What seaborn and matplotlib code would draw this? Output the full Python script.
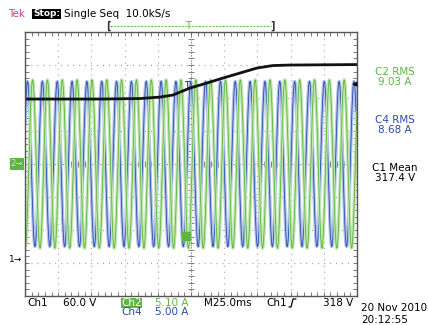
import numpy as np
import matplotlib
matplotlib.use("Agg")
import matplotlib.pyplot as plt
import seaborn as sns
from matplotlib.lines import Line2D

# Scope settings
ch1_volts_per_div = 60.0
ch2_amps_per_div = 5.10
ch4_amps_per_div = 5.00
ms_per_div = 25.0
ch1_ground_div = -2.88          # "1->" marker, divisions from centre
sample_rate_khz = 10.0

# Ch1 (black) DC voltage trace
ch1_time_ms = [-125, -68.5, -38.4, -23.3, -13.6, -0.8, 12.0, 24.1, 36.9, 49.7, 61.7, 74.5, 125]
ch1_volts = [290.9, 290.9, 291.8, 294.5, 298.2, 310.9, 320.0, 329.1, 338.2, 347.3, 351.8, 352.7, 353.6]

# Ch2 / Ch4 currents: sinusoids, peak, frequency and first trough
ch2_peak_a = 13.0
ch4_peak_a = 12.5
line_freq_hz = 89.5
ch2_first_trough_ms = -113.7
ch4_first_trough_ms = -117.5

# Measurement readouts
meas_labels = ["C2 RMS", "C4 RMS", "C1 Mean"]
meas_values = ["9.03 A", "8.68 A", "317.4 V"]

GREEN = "#5cb640"
GREEN_LIGHT = "#c2e6b0"
BLUE = "#2a4cac"
BLUE_LIGHT = "#b0c2e8"
PINK = "#c2409e"

W, H = 428, 325


def px(x, y):
    return x / W, 1 - y / H


sns.set_style("white")
plt.rcParams["font.family"] = ["DejaVu Sans"]

fig = plt.figure(figsize=(W / 100, H / 100), dpi=100)
ax = fig.add_axes([25 / W, (H - 296) / H, 332 / W, 264 / H])

# time base
t = np.arange(-125, 125, 1.0 / sample_rate_khz)
period = 1000.0 / line_freq_hz
ch2 = -ch2_peak_a * np.cos(2 * np.pi * (t - ch2_first_trough_ms) / period)
ch4 = -ch4_peak_a * np.cos(2 * np.pi * (t - ch4_first_trough_ms) / period)

# grid
for i in range(-4, 5):
    if i == 0:
        continue
    ax.axvline(i * ms_per_div, color="#8c8c8c", lw=0.9, ls=(0, (0.7, 4.08)), zorder=0)
for j in range(-3, 4):
    if j == 0:
        continue
    ax.axhline(j, color="#8c8c8c", lw=0.9, ls=(0, (0.7, 4.08)), zorder=0)
ax.axvline(0, color="#808080", lw=0.8, ls=(0, (1.2, 1.2)), zorder=0)
ax.axhline(0, color="#808080", lw=0.8, ls=(0, (1.2, 1.2)), zorder=0)
minor_x = np.arange(-125, 125.1, 5)
minor_y = np.arange(-4, 4.01, 0.2)
ax.plot(minor_x, np.zeros_like(minor_x), ls="none", marker="|", ms=4, color="#808080", mew=0.7, zorder=0)
ax.plot(np.zeros_like(minor_y), minor_y, ls="none", marker="_", ms=4, color="#808080", mew=0.7, zorder=0)

# traces
sns.lineplot(x=t, y=ch4 / ch4_amps_per_div, ax=ax, color=BLUE_LIGHT, lw=2.4, estimator=None, sort=False)
sns.lineplot(x=t, y=ch4 / ch4_amps_per_div, ax=ax, color=BLUE, lw=0.6, estimator=None, sort=False)
sns.lineplot(x=t, y=ch2 / ch2_amps_per_div, ax=ax, color=GREEN_LIGHT, lw=2.4, estimator=None, sort=False)
sns.lineplot(x=t, y=ch2 / ch2_amps_per_div, ax=ax, color=GREEN, lw=0.6, estimator=None, sort=False)
ch1_div = np.array(ch1_volts) / ch1_volts_per_div + ch1_ground_div
sns.lineplot(x=ch1_time_ms, y=ch1_div, ax=ax, color="#111111", lw=2.0, estimator=None, sort=False)

ax.set_xlim(-125, 125)
ax.set_ylim(-4, 4)
ax.set_xticks(np.arange(-125, 126, 25))
ax.set_yticks(np.arange(-4, 5, 1))
ax.set_xticks(minor_x, minor=True)
ax.set_yticks(minor_y, minor=True)
ax.tick_params(which="both", direction="in", length=3, width=0.7, color="#777777",
               top=True, right=True, bottom=True, left=True,
               labelbottom=False, labelleft=False)
ax.set_xlabel("")
ax.set_ylabel("")
for s in ax.spines.values():
    s.set_color("#555555")
    s.set_linewidth(1.0)

fs = 7.5
# header
fig.text(*px(8, 14), "Tek", color=PINK, fontsize=fs, va="center")
fig.text(*px(33, 14), "Stop:", color="white", fontsize=6.5, fontweight="bold", va="center",
         bbox=dict(facecolor="black", edgecolor="none", pad=0.5))
fig.text(*px(64, 14), "Single Seq  10.0kS/s", color="black", fontsize=fs, va="center")

# record bracket and trigger position
fig.text(*px(108, 26), "[", color="#333333", fontsize=7, va="center", ha="center", fontweight="bold")
fig.text(*px(273, 26), "]", color="#333333", fontsize=7, va="center", ha="center", fontweight="bold")
fig.add_artist(Line2D([110 / W, 271 / W], [1 - 26 / H, 1 - 26 / H], color=GREEN, lw=0.7,
                      ls=(0, (2, 1.5))))
fig.text(*px(188, 26), "T", color=GREEN, fontsize=7, va="center", ha="center")
fig.text(*px(187, 85), "T", color="#222222", fontsize=6, va="center", ha="center")
fig.add_artist(plt.Rectangle((182 / W, 1 - 240 / H), 8 / W, 8 / H, color=GREEN, transform=fig.transFigure))

# channel markers
fig.text(*px(17, 164), "2\u2192", color="#d8d8ff", fontsize=6, va="center", ha="center",
         bbox=dict(facecolor=GREEN, edgecolor="none", pad=0.8))
fig.text(*px(16, 259), "1\u2192", color="black", fontsize=6.5, va="center", ha="center")
fig.text(*px(355, 84), "\u25c0", color="black", fontsize=5, va="center", ha="center")

# measurements
meas_colors = [GREEN, BLUE, "black"]
meas_y = [72, 120, 168]
for lab, val, col, y in zip(meas_labels, meas_values, meas_colors, meas_y):
    fig.text(*px(395, y), lab, color=col, fontsize=fs, ha="center", va="center")
    fig.text(*px(395, y + 10), val, color=col, fontsize=fs, ha="center", va="center")

# bottom status line
fig.text(*px(27, 303), "Ch1", color="black", fontsize=fs, va="center")
fig.text(*px(63, 303), "60.0 V", color="black", fontsize=fs, va="center")
fig.text(*px(121, 303), "Ch2", color="white", fontsize=fs, va="center",
         bbox=dict(facecolor=GREEN, edgecolor="none", pad=0.3))
fig.text(*px(155, 303), "5.10 A", color=GREEN, fontsize=fs, va="center")
fig.text(*px(121, 312), "Ch4", color=BLUE, fontsize=fs, va="center")
fig.text(*px(155, 312), "5.00 A", color=BLUE, fontsize=fs, va="center")
fig.text(*px(204, 303), "M25.0ms", color="black", fontsize=fs, va="center")
fig.text(*px(266, 303), "Ch1", color="black", fontsize=fs, va="center")
edge_x = [289, 291, 293, 296]
edge_y = [307, 307, 299, 299]
fig.add_artist(Line2D([x / W for x in edge_x], [1 - y / H for y in edge_y], color="black", lw=0.9))
fig.text(*px(323, 303), "318 V", color="black", fontsize=fs, va="center")
fig.text(*px(361, 308), "20 Nov 2010", color="black", fontsize=fs, va="center")
fig.text(*px(361, 320), "20:12:55", color="black", fontsize=fs, va="center")

fig.savefig("out.png", dpi=100)
